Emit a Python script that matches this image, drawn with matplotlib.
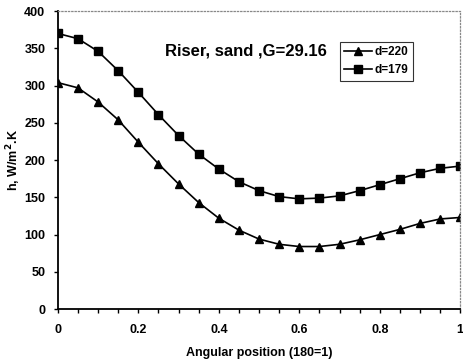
import matplotlib.pyplot as plt
from matplotlib.ticker import MultipleLocator

# angular position (180 deg = 1)
pos = [0, 0.05, 0.1, 0.15, 0.2, 0.25, 0.3, 0.35, 0.4, 0.45, 0.5,
       0.55, 0.6, 0.65, 0.7, 0.75, 0.8, 0.85, 0.9, 0.95, 1.0]
h_d220 = [304, 297, 278, 254, 224, 195, 168, 143, 122, 106, 94,
          87, 84, 84, 87, 93, 100, 107, 115, 121, 123]
h_d179 = [370, 363, 346, 320, 291, 261, 233, 208, 188, 171, 159,
          151, 148, 149, 152, 159, 167, 175, 183, 189, 192]

plt.rcParams['font.family'] = ['Liberation Sans', 'DejaVu Sans']
plt.rcParams['font.weight'] = 'bold'

fig = plt.figure(figsize=(4.63, 3.59), dpi=100)
ax = fig.add_axes([0.125, 0.139, 0.869, 0.830])

ax.plot(pos, h_d220, color='black', lw=1.2, marker='^', ms=6, label='d=220')
ax.plot(pos, h_d179, color='black', lw=1.2, marker='s', ms=5.5, label='d=179')

ax.set_xlim(0, 1)
ax.set_ylim(0, 400)
ax.xaxis.set_major_locator(MultipleLocator(0.2))
ax.xaxis.set_minor_locator(MultipleLocator(0.05))
ax.yaxis.set_major_locator(MultipleLocator(50))
ax.xaxis.set_major_formatter(plt.FuncFormatter(lambda v, p: f"{v:g}"))
ax.tick_params(axis='both', which='both', direction='out', length=3, width=1,
               labelsize=9, pad=6)
ax.tick_params(axis='x', which='major', pad=8)

for s in ['top', 'right']:
    ax.spines[s].set_color('#888888')
    ax.spines[s].set_linestyle(':')
    ax.spines[s].set_linewidth(0.9)
for s in ['left', 'bottom']:
    ax.spines[s].set_linewidth(1.3)

ax.set_xlabel('Angular position (180=1)', fontsize=9, fontweight='bold', labelpad=8)
ax.set_ylabel('h, W/m$^\\mathbf{2}$.K', fontsize=9, fontweight='bold', labelpad=1)

ax.text(0.267, 346, 'Riser, sand ,G=29.16', fontsize=12, fontweight='bold',
        va='center', ha='left')

leg = ax.legend(loc='upper left', bbox_to_anchor=(0.701, 0.897), fontsize=8.5,
                frameon=True, fancybox=False, edgecolor='black',
                handlelength=2.4, handletextpad=0.2, borderpad=0.35,
                labelspacing=0.55, borderaxespad=0)
leg.get_frame().set_linewidth(0.8)

fig.savefig('out.png', dpi=100)
